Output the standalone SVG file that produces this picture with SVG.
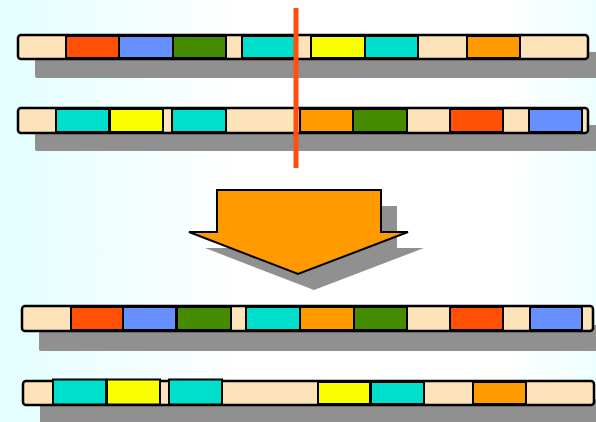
<svg xmlns="http://www.w3.org/2000/svg" width="596" height="422" viewBox="0 0 596 422">
  <defs>
    <linearGradient id="bg" x1="0" y1="0" x2="1" y2="0">
      <stop offset="0" stop-color="#E2FEFF"/>
      <stop offset="0.4" stop-color="#FFFFFF"/>
      <stop offset="0.85" stop-color="#FFFFFF"/>
      <stop offset="1" stop-color="#EDFEFF"/>
    </linearGradient>
    <style>
      .bar{fill:#FDE3BA;stroke:#000;stroke-width:2.5}
      .sh{fill:#909090}
      .s{stroke:#000;stroke-width:2}
      .r{fill:#FF5005}
      .b{fill:#6690FF}
      .g{fill:#448B00}
      .c{fill:#00DFCC}
      .y{fill:#FAFF00}
      .o{fill:#FF9A00}
      .w{fill:#FDE3BA}
    </style>
  </defs>
  <rect width="596" height="422" fill="url(#bg)"/>

  <g id="row1">
    <rect class="sh" x="35" y="52" width="580" height="26" rx="2"/>
    <rect class="bar" x="18" y="35" width="570" height="24" rx="3"/>
    <rect class="s r" x="66" y="36" width="53" height="22"/>
    <rect class="s b" x="119" y="36" width="54" height="22"/>
    <rect class="s g" x="173" y="36" width="53" height="22"/>
    <rect class="s c" x="242" y="36" width="53" height="22"/>
    <rect class="s y" x="311" y="36" width="54" height="22"/>
    <rect class="s c" x="365" y="36" width="53" height="22"/>
    <rect class="s o" x="467" y="36" width="53" height="22"/>
  </g>

  <g id="row2">
    <rect class="sh" x="35" y="125" width="580" height="26" rx="2"/>
    <rect class="bar" x="18" y="108" width="570" height="25" rx="3"/>
    <rect class="s c" x="56" y="109" width="53" height="23"/>
    <rect class="s y" x="110" y="109" width="53" height="23"/>
    <rect class="s c" x="172" y="109" width="54" height="23"/>
    <rect class="s o" x="300" y="109" width="53" height="23"/>
    <rect class="s g" x="353" y="109" width="54" height="23"/>
    <rect class="s r" x="450" y="109" width="53" height="23"/>
    <rect class="s b" x="529" y="109" width="53" height="23"/>
  </g>

  <g id="cut-line">
    <line x1="296" y1="8" x2="296" y2="168" stroke="#FF5010" stroke-width="5"/>
  </g>

  <g id="arrow">
    <polygon class="sh" points="233,206 397,206 397,248 424,248 314,290 205,248 233,248"/>
    <polygon points="217,190 381,190 381,232 408,232 298,274 189,232 217,232" fill="#FF9A00" stroke="#000" stroke-width="2" stroke-linejoin="miter"/>
  </g>

  <g id="row3">
    <rect class="sh" x="39" y="325" width="580" height="26" rx="2"/>
    <rect class="bar" x="22" y="306" width="571" height="25" rx="3"/>
    <rect class="s r" x="71" y="307" width="52" height="23"/>
    <rect class="s b" x="123" y="307" width="53" height="23"/>
    <rect class="s g" x="177" y="307" width="54" height="23"/>
    <rect class="s c" x="246" y="307" width="54" height="23"/>
    <rect class="s o" x="300" y="307" width="54" height="23"/>
    <rect class="s g" x="354" y="307" width="53" height="23"/>
    <rect class="s r" x="450" y="307" width="53" height="23"/>
    <rect class="s b" x="530" y="307" width="52" height="23"/>
  </g>

  <g id="row4">
    <rect class="sh" x="40" y="399" width="580" height="30" rx="2"/>
    <rect class="bar" x="23" y="381" width="571" height="24" rx="3"/>
    <rect class="s c" x="53" y="379.5" width="53" height="25"/>
    <rect class="s y" x="107" y="379.5" width="53" height="25"/>
    <rect class="s c" x="169" y="379.5" width="53" height="25"/>
    <rect class="s y" x="318" y="382" width="52" height="22"/>
    <rect class="s c" x="371" y="382" width="53" height="22"/>
    <rect class="s o" x="473" y="382" width="53" height="22"/>
  </g>
</svg>
